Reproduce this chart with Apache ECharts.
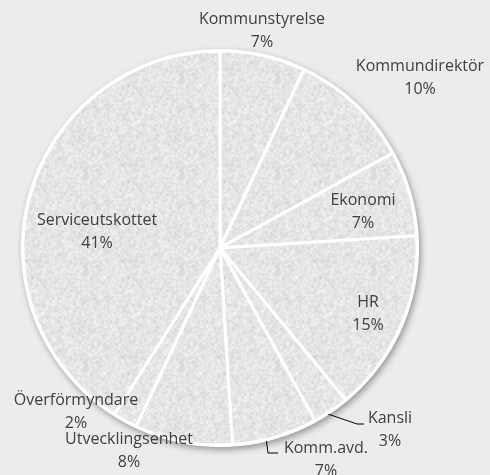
<!DOCTYPE html>
<html>
<head>
<meta charset="utf-8">
<script src="https://cdn.jsdelivr.net/npm/echarts@6/dist/echarts.min.js"></script>
<style>
html,body{margin:0;padding:0;background:#ebeceb;}
#c{width:490px;height:475px;}
</style>
</head>
<body>
<div id="c"></div>
<script>
const categories = ['Kommunstyrelse','Kommundirektör','Ekonomi','HR','Kansli','Komm.avd.','Utvecklingsenhet','Överförmyndare','Serviceutskottet'];
const values = [7, 10, 7, 15, 3, 7, 8, 2, 41];
const labelPos = [
  [262, 31], [420, 78], [363, 212], [368, 314], [390, 430], [326, 460], [129, 451], [76, 412], [97, 232]
];
const leaderLines = {
  4: [[325, 413], [357, 424], [364, 424]],
  5: [[266, 438], [268, 453], [278, 453]]
};

// texture pattern (deterministic hash noise)
function makeTexture() {
  const s = 96;
  const cv = document.createElement('canvas');
  cv.width = s; cv.height = s;
  const ctx = cv.getContext('2d');
  const img = ctx.createImageData(s, s);
  let seed = 12345;
  function rnd() { seed = (seed * 1103515245 + 12345) & 0x7fffffff; return seed / 0x7fffffff; }
  const base = [];
  for (let i = 0; i < s * s; i++) base.push(rnd());
  for (let y = 0; y < s; y++) {
    for (let x = 0; x < s; x++) {
      let sum = 0, n = 0;
      for (let dy = -1; dy <= 1; dy++) for (let dx = -1; dx <= 1; dx++) {
        sum += base[((y + dy + s) % s) * s + ((x + dx + s) % s)]; n++;
      }
      const v = sum / n;
      const c = Math.round(229 + (v - 0.5) * 40 + (base[y * s + x] - 0.5) * 10);
      const i = (y * s + x) * 4;
      img.data[i] = c; img.data[i + 1] = c; img.data[i + 2] = c; img.data[i + 3] = 255;
    }
  }
  ctx.putImageData(img, 0, 0);
  return cv;
}
const tex = makeTexture();

const chart = echarts.init(document.getElementById('c'), null, {renderer: 'canvas'});
chart.setOption({
  backgroundColor: '#ebeceb',
  animation: false,
  series: [{
    type: 'pie',
    silent: true,
    z: 1,
    center: [220, 248],
    radius: [0, 199],
    data: [{value: 1, name: ''}],
    label: {show: false},
    labelLine: {show: false},
    itemStyle: {
      color: '#ffffff',
      shadowColor: 'rgba(0,0,0,0.35)',
      shadowBlur: 6,
      shadowOffsetX: 2,
      shadowOffsetY: 3
    }
  }, {
    type: 'pie',
    z: 2,
    center: [220, 248],
    radius: [0, 197],
    startAngle: 90,
    clockwise: true,
    data: categories.map((n, i) => ({name: n, value: values[i]})),
    itemStyle: {
      color: {image: tex, repeat: 'repeat'},
      borderColor: '#ffffff',
      borderWidth: 3
    },
    emphasis: {disabled: true},
    label: {
      show: true,
      formatter: p => p.name + '\n' + Math.round(p.percent) + '%',
      fontFamily: 'Open Sans',
      fontSize: 16,
      lineHeight: 23,
      color: '#404040',
      align: 'center',
      overflow: 'none',
      width: 300
    },
    avoidLabelOverlap: false,
    labelLine: {show: true, lineStyle: {color: '#000000', width: 1}, length: 10, length2: 10},
    labelLayout: function (params) {
      const i = params.dataIndex;
      const p = labelPos[i];
      const r = {x: p[0], y: p[1], align: 'center', verticalAlign: 'middle', hideOverlap: false, moveOverlap: false};
      r.labelLinePoints = leaderLines[i] || [[0,0],[0,0],[0,0]];
      return r;
    }
  }]
});
</script>
</body>
</html>
